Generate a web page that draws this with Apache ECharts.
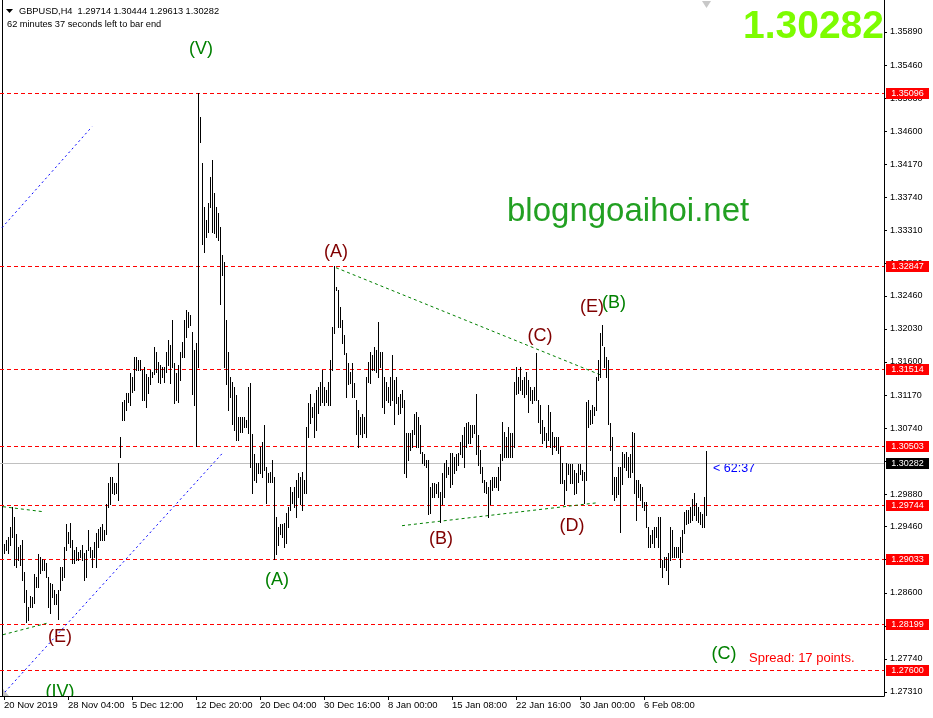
<!DOCTYPE html>
<html>
<head>
<meta charset="utf-8">
<script src="https://cdn.jsdelivr.net/npm/echarts@6/dist/echarts.min.js"></script>
<style>
html,body{margin:0;padding:0;background:#fff;}
#chart{width:933px;height:718px;}
</style>
</head>
<body>
<div id="chart"></div>
<script>
// ---------- DATA ----------
const highs = [
1.2924,1.2929,1.2932,1.2946,1.2971,1.2958,1.2936,1.2920,1.2922,1.2928,
1.2887,1.2864,1.2842,1.2856,1.2855,1.2885,1.2881,1.2911,1.2906,1.2904,
1.2902,1.2899,1.2880,1.2873,1.2871,1.2864,1.2858,1.2864,1.2893,1.2893,
1.2920,1.2950,1.2939,1.2951,1.2929,1.2916,1.2919,1.2913,1.2916,1.2922,
1.2912,1.2916,1.2942,1.2920,1.2916,1.2926,1.2938,1.2943,1.2946,1.2949,
1.2942,1.2975,1.3003,1.3010,1.3010,1.3003,1.3003,1.3029,1.3063,1.3108,
1.3111,1.3120,1.3120,1.3146,1.3141,1.3166,1.3166,1.3163,1.3163,1.3150,
1.3153,1.3144,1.3140,1.3150,1.3147,1.3179,1.3173,1.3160,1.3156,1.3154,
1.3153,1.3173,1.3189,1.3182,1.3215,1.3159,1.3146,1.3156,1.3173,1.3186,
1.3215,1.3228,1.3225,1.3221,1.3199,1.3176,1.3185,1.35096,1.3479,1.3419,
1.3362,1.3345,1.3367,1.3400,1.3423,1.3380,1.3362,1.3354,1.3336,1.3299,
1.3290,1.3215,1.3173,1.3140,1.3134,1.3128,1.3117,1.3089,1.3089,1.3088,
1.3089,1.3085,1.3127,1.3133,1.3066,1.3040,1.3029,1.3029,1.3049,1.3056,
1.3078,1.3024,1.3016,1.3017,1.3033,1.3011,1.2958,1.2946,1.2949,1.2949,
1.2951,1.2964,1.2971,1.2998,1.2991,1.2997,1.3007,1.3016,1.3011,1.3017,
1.3007,1.3075,1.3107,1.3118,1.3101,1.3107,1.3124,1.3127,1.3134,1.3150,
1.3128,1.3124,1.3134,1.3163,1.3205,1.32847,1.3258,1.3254,1.3231,1.3215,
1.3195,1.3172,1.3159,1.3147,1.3159,1.3133,1.3111,1.3098,1.3089,1.3092,
1.3089,1.3140,1.3160,1.3173,1.3169,1.3179,1.3176,1.3212,1.3173,1.3173,
1.3140,1.3134,1.3127,1.3140,1.3169,1.3137,1.3140,1.3114,1.3118,1.3124,
1.3111,1.3068,1.3068,1.3068,1.3072,1.3092,1.3095,1.3089,1.3078,1.3043,
1.3040,1.3033,1.3033,1.2998,1.3003,1.3003,1.3001,1.3004,1.2991,1.3016,
1.3029,1.3033,1.3024,1.3042,1.3042,1.3036,1.3040,1.3042,1.3056,1.3065,
1.3075,1.3081,1.3082,1.3078,1.3078,1.3078,1.3118,1.3065,1.3046,1.3024,
1.3007,1.3004,1.2998,1.3007,1.3010,1.3010,1.3011,1.3023,1.3040,1.3082,
1.3069,1.3063,1.3075,1.3068,1.3068,1.3134,1.3153,1.3141,1.3153,1.3137,
1.3140,1.3147,1.3137,1.3127,1.3124,1.3127,1.3172,1.3111,1.3104,1.3085,
1.3076,1.3068,1.3104,1.3095,1.3069,1.3063,1.3063,1.3063,1.3049,1.3029,
1.3007,1.3029,1.3027,1.3027,1.3027,1.3020,1.3016,1.3027,1.3027,1.3020,
1.3017,1.3108,1.3111,1.3098,1.3104,1.3102,1.3141,1.3163,1.3198,1.3208,
1.3180,1.3166,1.3163,1.3081,1.3062,1.3011,1.3010,1.3024,1.3023,1.3043,
1.3040,1.3043,1.3037,1.3040,1.3069,1.3068,1.3007,1.3007,1.3001,1.2997,
1.2978,1.2978,1.2946,1.2935,1.2942,1.2946,1.2946,1.2959,1.2959,1.2903,
1.2906,1.2907,1.2912,1.2946,1.2942,1.2920,1.2920,1.2920,1.2933,1.2942,
1.2965,1.2968,1.2968,1.2971,1.2982,1.2990,1.2977,1.2972,1.2965,1.2962,
1.2984,1.30444
];
const lows = [
1.2912,1.2916,1.2912,1.2922,1.2933,1.2896,1.2893,1.2903,1.2896,1.2877,
1.2848,1.2822,1.2825,1.2842,1.2842,1.2847,1.2867,1.2868,1.2886,1.2890,
1.2890,1.2880,1.2842,1.2834,1.2854,1.2845,1.2845,1.2826,1.2864,1.2877,
1.2881,1.2916,1.2925,1.2920,1.2899,1.2899,1.2903,1.2903,1.2907,1.2903,
1.2877,1.2881,1.2916,1.2907,1.2894,1.2907,1.2894,1.2920,1.2929,1.2929,
1.2929,1.2936,1.2971,1.2975,1.2990,1.2988,1.2990,1.2981,1.3036,1.3085,
1.3085,1.3098,1.3108,1.3104,1.3121,1.3124,1.3150,1.3150,1.3150,1.3111,
1.3111,1.3101,1.3120,1.3131,1.3140,1.3144,1.3147,1.3134,1.3133,1.3140,
1.3134,1.3147,1.3156,1.3133,1.3154,1.3107,1.3111,1.3108,1.3137,1.3167,
1.3167,1.3192,1.3206,1.3208,1.3118,1.3104,1.30503,1.3154,1.3446,1.3313,
1.3303,1.3322,1.3329,1.3361,1.3329,1.3328,1.3322,1.3319,1.3235,1.3273,
1.3154,1.3131,1.3098,1.3115,1.3079,1.3072,1.3059,1.3059,1.3069,1.3069,
1.3076,1.3076,1.3068,1.3023,1.2990,1.3007,1.3004,1.3016,1.3016,1.3011,
1.3020,1.2977,1.3004,1.3004,1.3004,1.29033,1.2910,1.2922,1.2936,1.2933,
1.2920,1.2925,1.2945,1.2968,1.2977,1.2972,1.2959,1.2985,1.2975,1.2968,
1.2990,1.2990,1.3062,1.3081,1.3088,1.3063,1.3072,1.3094,1.3104,1.3108,
1.3104,1.3108,1.3104,1.3104,1.3150,1.3198,1.3254,1.3205,1.3206,1.3185,
1.3170,1.3115,1.3131,1.3133,1.3115,1.3114,1.3066,1.3050,1.3066,1.3063,
1.3068,1.3062,1.3134,1.3133,1.3150,1.3150,1.3147,1.3140,1.3153,1.3101,
1.3094,1.3111,1.3108,1.3104,1.3111,1.3079,1.3107,1.3092,1.3094,1.3102,
1.3016,1.3011,1.3033,1.3046,1.3050,1.3066,1.3050,1.3050,1.3042,1.3029,
1.3026,1.3024,1.2962,1.2964,1.2984,1.2985,1.2990,1.2985,1.2952,1.2975,
1.2985,1.3011,1.3014,1.2997,1.3001,1.3016,1.3020,1.3026,1.3040,1.3037,
1.3024,1.3049,1.3055,1.3055,1.3062,1.3068,1.3040,1.3026,1.3016,1.3004,
1.2991,1.2990,1.2959,1.2975,1.2994,1.2997,1.2997,1.2994,1.3007,1.3033,
1.3037,1.3037,1.3037,1.3037,1.3036,1.3050,1.3118,1.3120,1.3124,1.3118,
1.3115,1.3118,1.3095,1.3111,1.3107,1.3111,1.3111,1.3082,1.3068,1.3055,
1.3059,1.3050,1.3059,1.3050,1.3040,1.3050,1.3046,1.3042,1.3003,1.3003,
1.2975,1.2994,1.3014,1.3003,1.3003,1.2988,1.2990,1.3004,1.3014,1.3007,
1.2977,1.3007,1.3075,1.3079,1.3081,1.3091,1.3098,1.3137,1.3141,1.3182,
1.3154,1.3140,1.3079,1.3046,1.2988,1.2981,1.2984,1.2988,1.2939,1.3001,
1.3024,1.3020,1.3011,1.3010,1.3017,1.2990,1.2955,1.2985,1.2981,1.2972,
1.2968,1.2946,1.2920,1.2920,1.2925,1.2920,1.2933,1.2920,1.2894,1.2881,
1.2894,1.2890,1.2871,1.2903,1.2907,1.2907,1.2907,1.2906,1.2894,1.2913,
1.2938,1.2949,1.2951,1.2952,1.2955,1.2961,1.2955,1.2952,1.2949,1.2945,
1.2945,1.29613
];

const xTickIdx = [0, 32, 64, 96, 128, 160, 192, 224, 256, 288, 320];
const xTickLabels = ['20 Nov 2019','28 Nov 04:00','5 Dec 12:00','12 Dec 20:00','20 Dec 04:00',
  '30 Dec 16:00','8 Jan 00:00','15 Jan 08:00','22 Jan 16:00','30 Jan 00:00','6 Feb 08:00'];

const yTickValues = [1.27310,1.27740,1.28170,1.28600,1.29030,1.29460,1.29880,1.30310,1.30740,
  1.31170,1.31600,1.32030,1.32460,1.32880,1.33310,1.33740,1.34170,1.34600,1.35030,1.35460,1.35890];

const levelPrices = [1.35096, 1.32847, 1.31514, 1.30503, 1.29744, 1.29033, 1.28199, 1.27600];
const currentPrice = 1.30282;

// trend lines: [startIndex, startPrice, endIndex, endPrice]
const greenLines = [
  [166, 1.32826, 298, 1.31435],
  [199, 1.29472, 297, 1.29771],
  [-0.5, 1.29719, 19.5, 1.29654],
  [-0.5, 1.28055, 22.5, 1.28211]
];
const blueLines = [
  [0.5, 1.27310, 109, 1.30408],
  [-1, 1.33346, 44, 1.34659]
];

const waveText  = ['(V)','(A)','(C)','(E)','(B)','(B)','(D)','(A)','(E)','(IV)','(C)'];
const waveIdx   = [98.5, 166, 268, 294, 305, 218.5, 284, 136.5, 28, 28, 360];
const wavePrice = [1.3567,1.3303,1.3194,1.3232,1.3237,1.2930,1.2947,1.2877,1.2802,1.2731,1.2780];
const waveColor = ['#008000','#800000','#800000','#800000','#008000','#800000','#800000','#008000','#800000','#008000','#008000'];

// ---------- CHART ----------
const FONT = '"Liberation Sans", Arial, sans-serif';
const X_MIN = -2, X_MAX = 440;
const chart = echarts.init(document.getElementById('chart'), null, {renderer: 'canvas'});

const barData = highs.map((h, i) => [i, h, lows[i]]);
const waveData = waveText.map((t, i) => [waveIdx[i], wavePrice[i]]);
const levelData = levelPrices.map(p => [X_MIN, p, 0]).concat([[X_MIN, currentPrice, 1]]);
const trendData = greenLines.map(l => l.concat([0])).concat(blueLines.map(l => l.concat([1])));

function renderLevel(params, api) {
  const cs = params.coordSys;
  const price = api.value(1);
  const isCurrent = api.value(2) === 1;
  const y = Math.round(api.coord([0, price])[1]) + 0.5;
  const right = cs.x + cs.width;
  return {
    type: 'group',
    children: [
      {type: 'line', shape: {x1: cs.x, y1: y, x2: right, y2: y},
       style: isCurrent ? {stroke: '#c0c0c0', lineWidth: 1}
                        : {stroke: '#ff0000', lineWidth: 1, lineDash: [4, 3]}},
      {type: 'rect', shape: {x: right + 2, y: Math.round(y - 6), width: 43, height: 11},
       style: {fill: isCurrent ? '#000000' : '#ff0000'}},
      {type: 'text', x: right + 23.5, y: Math.round(y - 6) + 6,
       style: {text: price.toFixed(5), fill: '#ffffff', font: '9px ' + FONT,
               align: 'center', verticalAlign: 'middle', textAlign: 'center', textVerticalAlign: 'middle'}}
    ]
  };
}

function renderTrend(params, api) {
  const a = api.coord([api.value(0), api.value(1)]);
  const b = api.coord([api.value(2), api.value(3)]);
  const blue = api.value(4) === 1;
  return {type: 'line', shape: {x1: a[0], y1: a[1], x2: b[0], y2: b[1]},
          style: blue ? {stroke: '#0000ff', lineWidth: 1, lineDash: [2, 3]}
                      : {stroke: '#008000', lineWidth: 1, lineDash: [3, 3]}};
}

const option = {
  animation: false,
  backgroundColor: '#ffffff',
  grid: {left: 0, top: 0, width: 884, height: 696, containLabel: false, outerBoundsMode: 'none'},
  xAxis: {
    type: 'value', min: X_MIN, max: X_MAX,
    splitLine: {show: false},
    axisLine: {show: true, onZero: false, lineStyle: {color: '#000', width: 1}},
    axisTick: {show: true, customValues: xTickIdx, length: 4, lineStyle: {color: '#000'}},
    axisLabel: {show: true, customValues: xTickIdx, align: 'left', margin: 4,
      fontSize: 9.5, fontFamily: FONT, color: '#000',
      formatter: v => xTickLabels[xTickIdx.indexOf(Math.round(v))] || ''}
  },
  yAxis: {
    type: 'value', position: 'right', min: 1.27258, max: 1.36306, scale: true,
    splitLine: {show: false},
    axisLine: {show: true, onZero: false, lineStyle: {color: '#000', width: 1}},
    axisTick: {show: true, customValues: yTickValues, length: 3, lineStyle: {color: '#000'}},
    axisLabel: {show: true, customValues: yTickValues, margin: 6, fontSize: 9, fontFamily: FONT,
      color: '#000', formatter: v => v.toFixed(5)}
  },
  series: [
    {
      type: 'custom', coordinateSystem: 'cartesian2d', data: levelData,
      silent: true, clip: false, z: 2, renderItem: renderLevel
    },
    {
      type: 'custom', coordinateSystem: 'cartesian2d', data: trendData,
      silent: true, clip: true, z: 2, renderItem: renderTrend
    },
    {
      type: 'custom',
      coordinateSystem: 'cartesian2d',
      data: barData,
      encode: {x: 0, y: [1, 2]},
      silent: true,
      z: 3,
      renderItem: function (params, api) {
        const i = api.value(0);
        const top = api.coord([i, api.value(1)]);
        const bot = api.coord([i, api.value(2)]);
        const x = Math.round(top[0]);
        const y0 = Math.round(top[1]);
        const y1 = Math.round(bot[1]);
        return {type: 'rect', shape: {x: x, y: y0, width: 1, height: Math.max(1, y1 - y0 + 1)},
                style: {fill: '#000000'}};
      }
    },
    {
      type: 'custom',
      coordinateSystem: 'cartesian2d',
      data: waveData,
      clip: true,
      silent: true,
      z: 4,
      renderItem: function (params, api) {
        const p = api.coord([api.value(0), api.value(1)]);
        const k = params.dataIndex;
        return {type: 'text', x: p[0], y: p[1],
          style: {text: waveText[k], fill: waveColor[k], font: '18px ' + FONT,
                  align: 'center', verticalAlign: 'middle', textAlign: 'center', textVerticalAlign: 'middle'}};
      }
    }
  ],
  graphic: [
    {type: 'rect', shape: {x: 2, y: 0, width: 1, height: 697}, style: {fill: '#000'}, silent: true},
    {type: 'polygon', shape: {points: [[6, 9], [13, 9], [9.5, 13]]}, style: {fill: '#000'}, silent: true},
    {type: 'text', x: 19, y: 11, silent: true,
     style: {text: 'GBPUSD,H4  1.29714 1.30444 1.29613 1.30282', fill: '#000', font: '9.25px ' + FONT,
             verticalAlign: 'middle', textVerticalAlign: 'middle'}},
    {type: 'text', x: 7, y: 24, silent: true,
     style: {text: '62 minutes 37 seconds left to bar end', fill: '#000', font: '9.25px ' + FONT,
             verticalAlign: 'middle', textVerticalAlign: 'middle'}},
    {type: 'text', x: 884, y: 27, silent: true,
     style: {text: '1.30282', fill: '#7cfc00', font: 'bold 39px ' + FONT,
             align: 'right', textAlign: 'right', verticalAlign: 'middle', textVerticalAlign: 'middle'}},
    {type: 'text', x: 507, y: 212, silent: true,
     style: {text: 'blogngoaihoi.net', fill: '#22a022', font: '33px ' + FONT,
             verticalAlign: 'middle', textVerticalAlign: 'middle'}},
    {type: 'text', x: 713, y: 469, silent: true,
     style: {text: '< 62:37', fill: '#0000ff', font: '12.5px ' + FONT,
             verticalAlign: 'middle', textVerticalAlign: 'middle'}},
    {type: 'text', x: 749, y: 658, silent: true,
     style: {text: 'Spread: 17 points.', fill: '#ff0000', font: '13px ' + FONT,
             verticalAlign: 'middle', textVerticalAlign: 'middle'}},
    {type: 'polygon', shape: {points: [[702, 1], [711, 1], [706.5, 8]]}, style: {fill: '#c8c8c8'}, silent: true},
    {type: 'polygon', shape: {points: [[3, 689], [3, 696], [9, 696]]}, style: {fill: '#c0c0c0'}, silent: true}
  ]
};
chart.setOption(option);
</script>
</body>
</html>
